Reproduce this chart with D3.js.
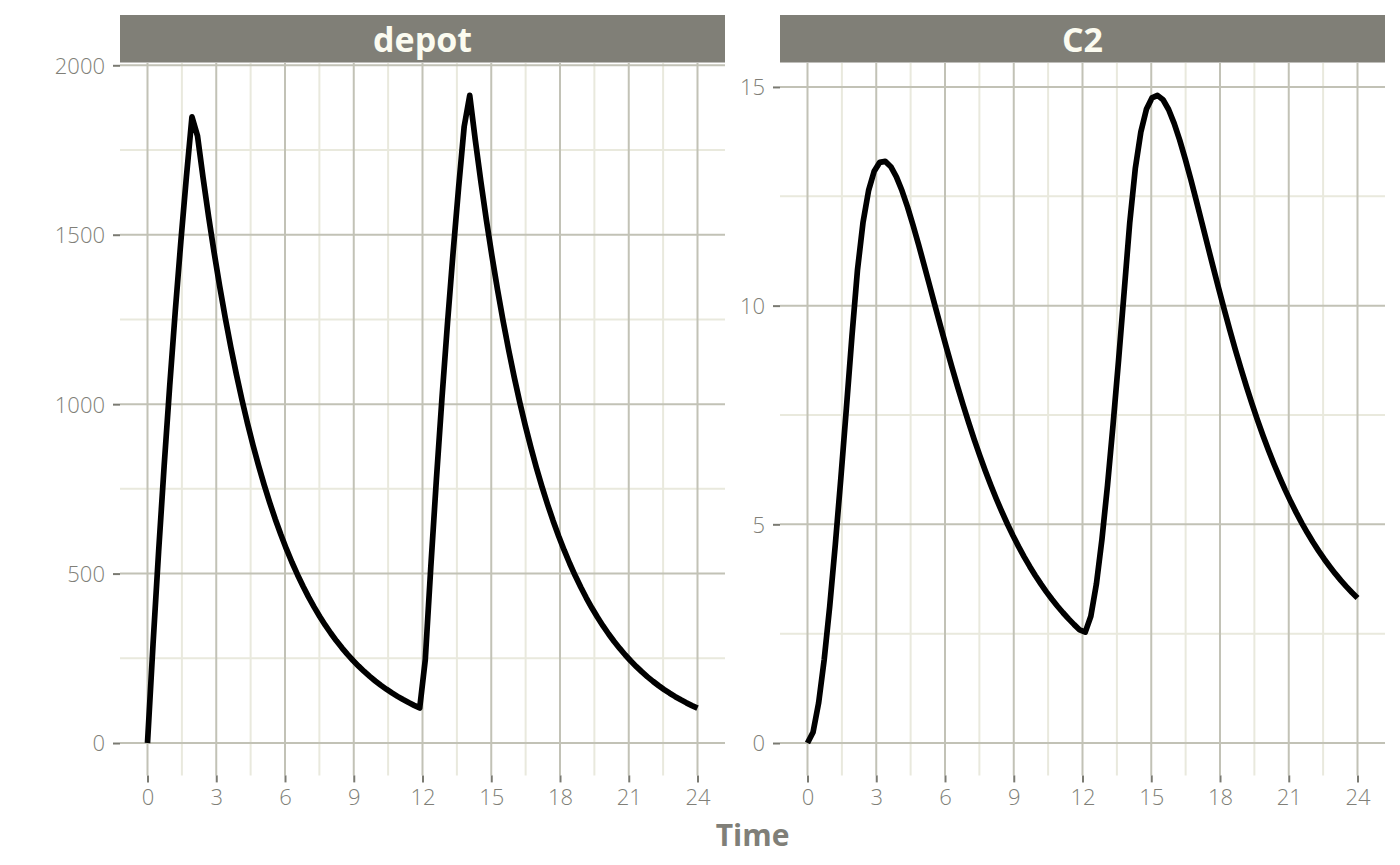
<!DOCTYPE html>
<html>
<head>
<meta charset="utf-8">
<script src="https://cdn.jsdelivr.net/npm/d3@7/dist/d3.min.js"></script>
<style>
  html, body { margin: 0; padding: 0; background: #ffffff; }
  svg { display: block; }
</style>
</head>
<body>
<svg id="chart" width="1400" height="865"></svg>
<script>
// ---- data ----
const times = [0, 0.2424, 0.4848, 0.7273, 0.9697, 1.2121, 1.4545, 1.6970, 1.9394, 2.1818,
  2.4242, 2.6667, 2.9091, 3.1515, 3.3939, 3.6364, 3.8788, 4.1212, 4.3636, 4.6061,
  4.8485, 5.0909, 5.3333, 5.5758, 5.8182, 6.0606, 6.3030, 6.5455, 6.7879, 7.0303,
  7.2727, 7.5152, 7.7576, 8.0000, 8.2424, 8.4848, 8.7273, 8.9697, 9.2121, 9.4545,
  9.6970, 9.9394, 10.1818, 10.4242, 10.6667, 10.9091, 11.1515, 11.3939, 11.6364, 11.8788,
  12.1212, 12.3636, 12.6061, 12.8485, 13.0909, 13.3333, 13.5758, 13.8182, 14.0606, 14.3030,
  14.5455, 14.7879, 15.0303, 15.2727, 15.5152, 15.7576, 16.0000, 16.2424, 16.4848, 16.7273,
  16.9697, 17.2121, 17.4545, 17.6970, 17.9394, 18.1818, 18.4242, 18.6667, 18.9091, 19.1515,
  19.3939, 19.6364, 19.8788, 20.1212, 20.3636, 20.6061, 20.8485, 21.0909, 21.3333, 21.5758,
  21.8182, 22.0606, 22.3030, 22.5455, 22.7879, 23.0303, 23.2727, 23.5152, 23.7576, 24.0000];

const depotValues = [0, 292.5, 564.8, 818.5, 1054.7, 1274.6, 1479.4, 1670.1, 1847.7, 1791.7,
  1668.4, 1553.6, 1446.7, 1347.2, 1254.5, 1168.2, 1087.8, 1013.0, 943.3, 878.4,
  818.0, 761.7, 709.3, 660.5, 615.1, 572.8, 533.4, 496.7, 462.5, 430.7,
  401.1, 373.5, 347.8, 323.9, 301.6, 280.9, 261.5, 243.5, 226.8, 211.2,
  196.7, 183.1, 170.5, 158.8, 147.9, 137.7, 128.2, 119.4, 111.2, 103.5,
  245.3, 520.9, 777.5, 1016.5, 1239.1, 1446.3, 1639.3, 1819.0, 1911.2, 1779.7,
  1657.3, 1543.3, 1437.1, 1338.2, 1246.2, 1160.5, 1080.6, 1006.3, 937.1, 872.6,
  812.6, 756.7, 704.6, 656.1, 611.0, 569.0, 529.8, 493.4, 459.5, 427.9,
  398.4, 371.0, 345.5, 321.7, 299.6, 279.0, 259.8, 241.9, 225.3, 209.8,
  195.3, 181.9, 169.4, 157.7, 146.9, 136.8, 127.4, 118.6, 110.4, 102.8];

const c2Values = [0, 0.2476, 0.9142, 1.9010, 3.1273, 4.5282, 6.0507, 7.6522, 9.2988, 10.8191,
  11.9087, 12.6352, 13.0709, 13.2752, 13.2968, 13.1757, 12.9450, 12.6312, 12.2563, 11.8381,
  11.3906, 10.9253, 10.4514, 9.9759, 9.5046, 9.0419, 8.5908, 8.1539, 7.7328, 7.3289,
  6.9428, 6.5748, 6.2249, 5.8931, 5.5791, 5.2824, 5.0023, 4.7385, 4.4902, 4.2566,
  4.0372, 3.8311, 3.6377, 3.4564, 3.2865, 3.1271, 2.9778, 2.8381, 2.7071, 2.5847,
  2.5346, 2.8977, 3.6348, 4.6564, 5.8894, 7.2746, 8.7641, 10.3198, 11.8920, 13.1311,
  13.9700, 14.4874, 14.7484, 14.8068, 14.7068, 14.4841, 14.1682, 13.7835, 13.3493, 12.8814,
  12.3923, 11.8918, 11.3885, 10.8883, 10.3960, 9.9154, 9.4491, 8.9992, 8.5668, 8.1532,
  7.7584, 7.3828, 7.0261, 6.6882, 6.3687, 6.0669, 5.7821, 5.5139, 5.2611, 5.0237,
  4.8003, 4.5905, 4.3933, 4.2084, 4.0348, 3.8720, 3.7191, 3.5761, 3.4418, 3.3158];

const panelNames = ["depot", "C2"];
const xTicks = [0, 3, 6, 9, 12, 15, 18, 21, 24];
const depotTicks = [0, 500, 1000, 1500, 2000];
const c2Ticks = [0, 5, 10, 15];
const xTitle = "Time";

// ---- styling / layout ----
const COL = {
  strip: "#807f77",
  stripText: "#fbfbf0",
  major: "#c2c2b6",
  minor: "#e9e9dd",
  text: "#807f78",
  tick: "#7a7a72",
  line: "#000000"
};
const FONT = "'Open Sans', 'Noto Sans', sans-serif";
const panelTop = 63, panelBottom = 775.4;
const stripTop = 15, stripBottom = 62.5;
const panels = [
  { name: panelNames[0], values: depotValues, yTicks: depotTicks, left: 120, right: 725 },
  { name: panelNames[1], values: c2Values, yTicks: c2Ticks, left: 780, right: 1385 }
];

const svg = d3.select("#chart");
svg.append("rect").attr("width", 1400).attr("height", 865).attr("fill", "#ffffff");

function expand(lo, hi) {
  const d = (hi - lo) * 0.05;
  return [lo - d, hi + d];
}
function midpoints(ticks, domain) {
  const out = [];
  for (let i = 0; i < ticks.length - 1; i++) out.push((ticks[i] + ticks[i + 1]) / 2);
  const step = ticks[1] - ticks[0];
  out.push(ticks[0] - step / 2, ticks[ticks.length - 1] + step / 2);
  return out.filter(v => v >= domain[0] && v <= domain[1]);
}

panels.forEach(p => {
  const xDom = expand(d3.min(times), d3.max(times));
  const yDom = expand(Math.min(0, d3.min(p.values)), d3.max(p.values));
  const x = d3.scaleLinear().domain(xDom).range([p.left, p.right]);
  const y = d3.scaleLinear().domain(yDom).range([panelBottom, panelTop]);
  const g = svg.append("g");

  // minor grid
  const xMinor = midpoints(xTicks, xDom);
  const yMinor = midpoints(p.yTicks, yDom);
  g.selectAll(".xminor").data(xMinor).enter().append("line")
    .attr("x1", d => x(d)).attr("x2", d => x(d))
    .attr("y1", panelTop).attr("y2", panelBottom)
    .attr("stroke", COL.minor).attr("stroke-width", 2);
  g.selectAll(".yminor").data(yMinor).enter().append("line")
    .attr("x1", p.left).attr("x2", p.right)
    .attr("y1", d => y(d)).attr("y2", d => y(d))
    .attr("stroke", COL.minor).attr("stroke-width", 2);

  // major grid
  g.selectAll(".xmajor").data(xTicks).enter().append("line")
    .attr("x1", d => x(d)).attr("x2", d => x(d))
    .attr("y1", panelTop).attr("y2", panelBottom)
    .attr("stroke", COL.major).attr("stroke-width", 2);
  g.selectAll(".ymajor").data(p.yTicks).enter().append("line")
    .attr("x1", p.left).attr("x2", p.right)
    .attr("y1", d => y(d)).attr("y2", d => y(d))
    .attr("stroke", COL.major).attr("stroke-width", 2);

  // strip
  g.append("rect").attr("x", p.left).attr("y", stripTop)
    .attr("width", p.right - p.left).attr("height", stripBottom - stripTop)
    .attr("fill", COL.strip);
  g.append("text").attr("x", (p.left + p.right) / 2).attr("y", 51.5)
    .attr("text-anchor", "middle").attr("font-family", FONT)
    .attr("font-weight", 700).attr("font-size", 34).attr("fill", COL.stripText)
    .text(p.name);

  // axes
  const xAxis = d3.axisBottom(x).tickValues(xTicks).tickSize(7).tickPadding(7).tickFormat(d3.format("d"));
  const ax = g.append("g").attr("transform", `translate(0,${panelBottom})`).call(xAxis);
  const yAxis = d3.axisLeft(y).tickValues(p.yTicks).tickSize(7).tickPadding(8).tickFormat(d3.format("d"));
  const ay = g.append("g").attr("transform", `translate(${p.left},0)`).call(yAxis);
  [ax, ay].forEach(a => {
    a.select(".domain").remove();
    a.selectAll(".tick line").attr("stroke", COL.tick).attr("stroke-width", 2);
    a.selectAll(".tick text").attr("fill", COL.text)
      .attr("font-family", FONT).attr("font-weight", 300).attr("font-size", 22);
  });
  ay.selectAll(".tick text").attr("dy", "0.36em");

  // line
  const line = d3.line().x((d, i) => x(times[i])).y(d => y(d));
  g.append("path").datum(p.values).attr("d", line)
    .attr("fill", "none").attr("stroke", COL.line).attr("stroke-width", 5.7)
    .attr("stroke-linejoin", "round").attr("stroke-linecap", "butt");
});

svg.append("text").attr("x", 752.5).attr("y", 846)
  .attr("text-anchor", "middle").attr("font-family", FONT)
  .attr("font-weight", 700).attr("font-size", 30).attr("fill", COL.text)
  .text(xTitle);
</script>
</body>
</html>
